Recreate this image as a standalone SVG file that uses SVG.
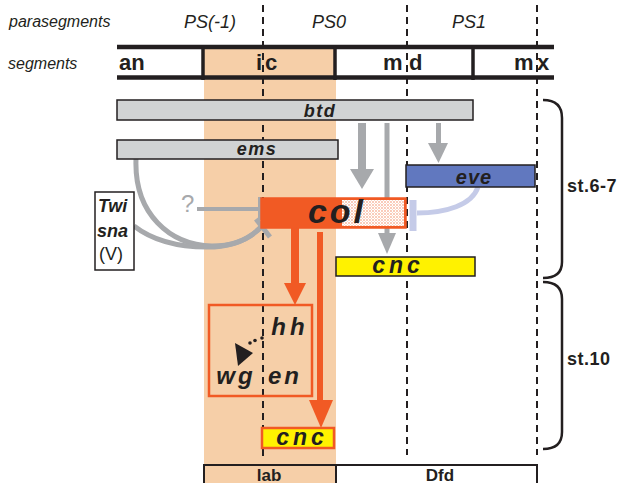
<svg xmlns="http://www.w3.org/2000/svg" width="625" height="483" viewBox="0 0 625 483">
<defs>
<pattern id="stip" width="3" height="3" patternUnits="userSpaceOnUse">
<rect width="3" height="3" fill="#FFFFFF"/>
<circle cx="1" cy="1" r="0.8" fill="#F15A24" opacity="0.7"/>
<circle cx="2.5" cy="2.5" r="0.5" fill="#F6A47F" opacity="0.6"/>
</pattern>
<style>
.lbl{font-family:"Liberation Sans",Arial,sans-serif;fill:#231F20}
.it{font-style:italic;font-size:16px}
.ps{font-style:italic;font-size:18px}
.seg{font-weight:bold;font-size:22px}
.gene{font-weight:bold;font-style:italic;text-anchor:middle}
.bar{stroke:#231F20;stroke-width:1.5}
.dash{stroke:#231F20;stroke-width:2;stroke-dasharray:7 5;fill:none}
.grey{stroke:#A7A9AC;fill:none}
.greyf{fill:#A7A9AC}
.org{stroke:#F15A24;fill:none}
.orgf{fill:#F15A24}
.brace{stroke:#231F20;stroke-width:2.5;fill:none}
</style>
</defs>
<rect width="625" height="483" fill="#FFFFFF"/>
<!-- labial band -->
<rect id="band" x="204" y="47" width="132" height="436" fill="#F6CFA8"/>

<!-- parasegment dashed lines -->
<g id="parasegment-lines">
<line class="dash" x1="263" y1="5" x2="263" y2="457"/>
<line class="dash" x1="407" y1="5" x2="407" y2="455"/>
<line class="dash" x1="537" y1="5" x2="537" y2="455"/>
</g>

<g id="header">
<text class="lbl it" x="9" y="27">parasegments</text>
<text class="lbl it" x="8" y="69">segments</text>
<text class="lbl ps" x="184" y="28">PS(-1)</text>
<text class="lbl ps" x="312" y="28">PS0</text>
<text class="lbl ps" x="452" y="28">PS1</text>
</g>

<g id="segments">
<line x1="117" y1="47" x2="554" y2="47" stroke="#231F20" stroke-width="4.5"/>
<line x1="117" y1="77.5" x2="554" y2="77.5" stroke="#231F20" stroke-width="4.5"/>
<line x1="203" y1="47" x2="203" y2="80" stroke="#231F20" stroke-width="3.5"/>
<line x1="335" y1="47" x2="335" y2="80" stroke="#231F20" stroke-width="3.5"/>
<line x1="473" y1="47" x2="473" y2="80" stroke="#231F20" stroke-width="3.5"/>
<text class="lbl seg" x="119" y="70">an</text>
<text class="lbl seg" x="256 265" y="70">ic</text>
<text class="lbl seg" x="383 409" y="70">md</text>
<text class="lbl seg" x="514 537" y="70">mx</text>
</g>

<!-- connectors -->
<g id="connectors">
<!-- btd to col (thick) -->
<rect class="greyf" x="358" y="123" width="8" height="48"/>
<polygon class="greyf" points="350,169 374,169 362,189"/>
<!-- btd to cnc (thin, passes behind col) -->
<rect class="greyf" x="384.5" y="123" width="5" height="112"/>
<polygon class="greyf" points="378,233 396,233 387,254"/>
<!-- btd to eve -->
<rect class="greyf" x="436" y="123" width="5" height="22"/>
<polygon class="greyf" points="428,143 448,143 438.5,163"/>
<!-- ems / Twi-sna repress col -->
<path class="grey" stroke-width="5" d="M136,159 C134,214 170,245 212,246 C234,246 250,239 262,226"/>
<path class="grey" stroke-width="5" d="M134,226 C152,240 178,247 207,247 C232,247 250,239 262,226"/>
<line class="grey" stroke-width="5" x1="256" y1="219" x2="270" y2="237"/>
<!-- ? repression -->
<line class="grey" stroke-width="4" x1="197" y1="209" x2="259" y2="209"/>
<line class="grey" stroke-width="4" x1="260" y1="197" x2="260" y2="220"/>
<!-- eve represses col -->
<path d="M478,187 C472,205 446,213 417,213" stroke="#C5CBE8" stroke-width="5" fill="none"/>
<line x1="413" y1="200" x2="413" y2="231" stroke="#C5CBE8" stroke-width="7"/>
<!-- col to hh/wg/en -->
<rect class="orgf" x="291" y="227" width="8" height="58"/>
<polygon class="orgf" points="284,283 306,283 295,305"/>
<!-- col to cnc (late) -->
<rect class="orgf" x="317" y="232" width="6" height="170"/>
<polygon class="orgf" points="309,400 333,400 321,428"/>
<!-- hh to wg dotted -->
<polygon fill="#231F20" points="235,343 253,353 238,366"/>
<circle cx="250" cy="343" r="1.8" fill="#231F20"/>
<circle cx="255" cy="340.5" r="1.8" fill="#231F20"/>
<circle cx="262" cy="338" r="1.8" fill="#231F20"/>
</g>

<g id="btd">
<rect class="bar" x="117" y="100" width="356" height="20" fill="#D1D3D4"/>
<text class="lbl gene" x="320" y="117" font-size="18" letter-spacing="1.5">btd</text>
</g>
<g id="ems">
<rect class="bar" x="117" y="140" width="221" height="19" fill="#D1D3D4"/>
<text class="lbl gene" x="257" y="155" font-size="18" letter-spacing="1.5">ems</text>
</g>
<g id="eve">
<rect class="bar" x="406" y="165" width="129" height="22" fill="#6178BF"/>
<text class="lbl gene" x="474" y="184" font-size="20" letter-spacing="1">eve</text>
</g>
<g id="twi-sna">
<rect x="95" y="192" width="39" height="78" fill="#FFFFFF" stroke="#231F20" stroke-width="1.5"/>
<text class="lbl" x="98" y="212" font-size="18" font-weight="bold" font-style="italic">Twi</text>
<text class="lbl" x="97" y="237" font-size="18" font-weight="bold" font-style="italic">sna</text>
<text class="lbl" x="99" y="260" font-size="18">(V)</text>
</g>
<g id="question">
<text x="181" y="212" font-family="Liberation Sans, Arial, sans-serif" font-size="24" fill="#A7A9AC">?</text>
</g>
<g id="col">
<rect x="261" y="198" width="80" height="30" fill="#F15A24"/>
<rect x="341" y="199" width="64" height="28" fill="url(#stip)" stroke="#F15A24" stroke-width="2"/>
<rect x="261" y="198" width="145" height="30" fill="none" stroke="#F15A24" stroke-width="1.5"/>
<text class="lbl gene" x="337" y="223" font-size="34" letter-spacing="3">col</text>
</g>
<g id="cnc-early">
<rect class="bar" x="336" y="257" width="139" height="19" fill="#FFF200"/>
<text class="lbl gene" x="398" y="273" font-size="23" letter-spacing="4">cnc</text>
</g>
<g id="hh-wg-en">
<rect x="209" y="305" width="103" height="91" fill="none" stroke="#F15A24" stroke-width="2.5"/>
<text class="lbl gene" x="290" y="335" font-size="24" letter-spacing="4">hh</text>
<text class="lbl gene" x="236" y="384" font-size="24" letter-spacing="3">wg</text>
<text class="lbl gene" x="285" y="384" font-size="24" letter-spacing="3">en</text>
</g>
<g id="cnc-late">
<rect x="262" y="428" width="72" height="20" fill="#FFF200" stroke="#F15A24" stroke-width="2.5"/>
<text class="lbl gene" x="302" y="445" font-size="23" letter-spacing="4">cnc</text>
</g>

<g id="stages">
<path class="brace" d="M543,100 Q562,100 562,118 L562,262 Q562,278 543,278"/>
<path class="brace" d="M543,282 Q562,282 562,299 L562,432 Q562,449 543,449"/>
<text class="lbl" x="567" y="192" font-size="18" font-weight="bold" letter-spacing="0.5">st.6-7</text>
<text class="lbl" x="567" y="365" font-size="18" font-weight="bold" letter-spacing="0.5">st.10</text>
</g>

<g id="domains">
<rect x="204" y="465" width="132" height="30" fill="none" stroke="#231F20" stroke-width="2"/>
<rect x="336" y="465" width="201" height="30" fill="#FFFFFF" stroke="#231F20" stroke-width="2"/>
<text class="lbl" x="269" y="481" font-size="17" font-weight="bold" text-anchor="middle">lab</text>
<text class="lbl" x="440" y="481" font-size="17" font-weight="bold" text-anchor="middle">Dfd</text>
</g>
</svg>
